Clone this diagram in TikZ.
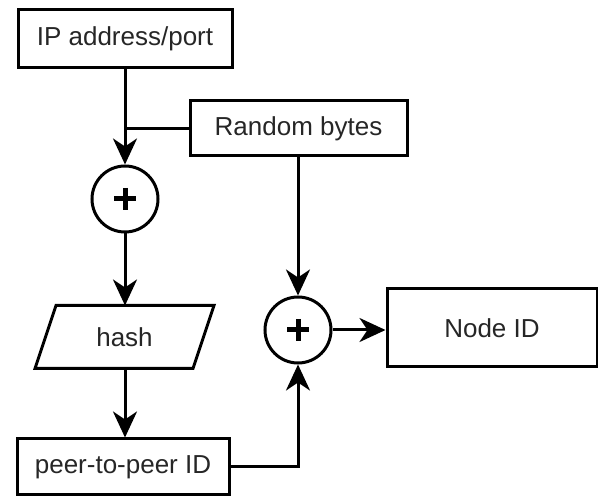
\documentclass[tikz,border=0pt]{standalone}
\usepackage{fontspec}
\setmainfont{Liberation Sans}
\usetikzlibrary{arrows.meta,calc}
\begin{document}
\begin{tikzpicture}[x=1pt,y=-1pt,
  box/.style={draw=black,line width=3pt,inner sep=0pt,font=\fontsize{26}{30}\selectfont,text=black!85},
  sumnode/.style={draw=black,line width=3pt,circle,minimum size=66pt,inner sep=0pt},
  conn/.style={line width=3pt,draw=black},
  arr/.style={conn,-{Stealth[length=26pt,width=24pt,inset=8pt]}},
  plusbar/.style={line width=5pt,draw=black}]
\useasboundingbox (0,0) rectangle (598,497);
\node[box,minimum width=214pt,minimum height=58pt] (ip) at (125,39) {IP address/port};
\node[box,minimum width=217pt,minimum height=55pt] (rnd) at (298.5,128.5) {Random bytes};
\node[sumnode] (c1) at (125,199) {};
\node[box,draw=none,minimum width=155pt,minimum height=60pt] (hash) at (124.5,337) {hash};
\draw[line width=3pt] ($(hash.north west)+(10.5,0)$) -- ($(hash.north east)+(10.5,0)$)
  -- ($(hash.south east)+(-10.5,0)$) -- ($(hash.south west)+(-10.5,0)$) -- cycle;
\node[box,minimum width=212pt,minimum height=56pt] (p2p) at (123,467) {peer-to-peer ID};
\node[sumnode] (c2) at (298,330) {};
\node[box,minimum width=210pt,minimum height=78pt] (nid) at (492,328) {Node ID};
% plus signs
\draw[plusbar] ($(c1)+(-11,0)$) -- ($(c1)+(11,0)$);
\draw[plusbar] ($(c1)+(0,-11)$) -- ($(c1)+(0,11)$);
\draw[plusbar] ($(c2)+(-11,0)$) -- ($(c2)+(11,0)$);
\draw[plusbar] ($(c2)+(0,-11)$) -- ($(c2)+(0,11)$);
% connectors
\coordinate (join) at (rnd.west -| ip.south);
\draw[arr] (ip.south) -- (c1.north);
\draw[conn] (rnd.west) -- (join);
\draw[arr] (c1.south) -- (hash.north -| c1.south);
\draw[arr] (hash.south -| c1.south) -- (p2p.north -| c1.south);
\draw[arr] (rnd.south -| c2.north) -- (c2.north);
\draw[arr] (p2p.east) -| (c2.south);
\draw[arr] (c2.east) -- (nid.west |- c2.east);
\end{tikzpicture}
\end{document}
